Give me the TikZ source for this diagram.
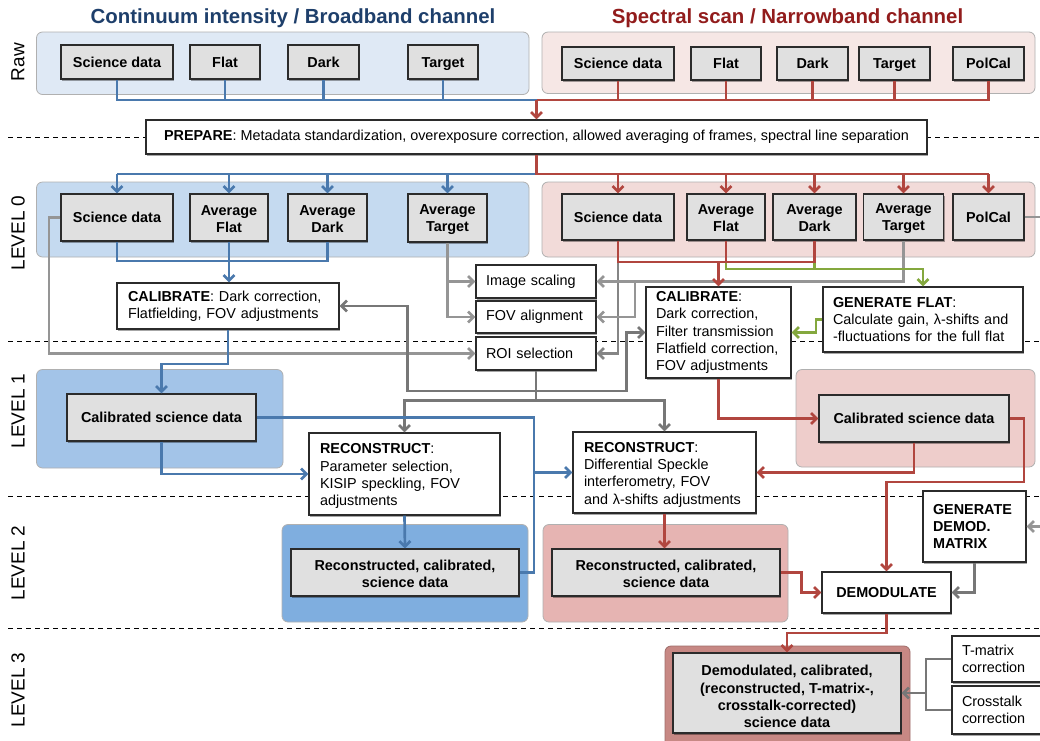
\documentclass[tikz,border=0pt]{standalone}
\usepackage{fontspec}
\setmainfont{Liberation Sans}
\usetikzlibrary{arrows.meta,shadows,backgrounds}
\definecolor{boxgray}{HTML}{E0E0E0}
\definecolor{boxline}{HTML}{2B2B2B}
\definecolor{bandline}{HTML}{B0B0B0}
\definecolor{cblue}{HTML}{4A79AD}
\definecolor{cred}{HTML}{B1463F}
\definecolor{clgray}{HTML}{959595}
\definecolor{cmgray}{HTML}{858585}
\definecolor{cdgray}{HTML}{777777}
\definecolor{cgreen}{HTML}{84A83E}
\definecolor{tblue}{HTML}{1E3F6B}
\definecolor{tred}{HTML}{921C1C}
\definecolor{rawB}{HTML}{DFE9F5}
\definecolor{rawR}{HTML}{F6E7E5}
\definecolor{lzB}{HTML}{C5DAF0}
\definecolor{lzR}{HTML}{F2DBD9}
\definecolor{loB}{HTML}{A3C4E8}
\definecolor{loR}{HTML}{EECDCB}
\definecolor{ltB}{HTML}{7FAEDF}
\definecolor{ltR}{HTML}{E6B4B2}
\definecolor{lthR}{HTML}{C78884}
\newcommand\nb[1]{\mbox{#1}}
\newcommand\st{\rule[-3.2pt]{0pt}{16.7pt}}
\newcommand\sth{\rule{0pt}{12.5pt}}
\newcommand\stw{\rule{0pt}{14.5pt}}
\begin{document}
\begin{tikzpicture}[x=1pt,y=-1pt,
  txt/.style={font=\fontsize{14.4}{17.3}\selectfont},
  shad/.style={drop shadow={opacity=.35,shadow xshift=1pt,shadow yshift=-1.5pt,fill=black}},
  gbox/.style={shad,fill=boxgray,draw=boxline,line width=1.1pt,inner sep=0pt,align=center,font=\fontsize{14.4}{17.3}\selectfont\bfseries,execute at begin node=\st},
  gml/.style={shad,fill=boxgray,draw=boxline,line width=1.1pt,inner sep=0pt,align=center,font=\fontsize{14.4}{17.3}\selectfont\bfseries},
  wbox/.style={shad,fill=white,draw=boxline,line width=1.1pt,inner ysep=0pt,inner xsep=11pt,align=left,txt},
  band/.style={draw=bandline,line width=.8pt,rounded corners=6pt},
  lvl/.style={rotate=90,font=\fontsize{19}{22}\selectfont},
  dsh/.style={draw=black,line width=.9pt,dash pattern=on 5pt off 4pt},
  con/.style={line width=2.7pt},
  bl/.style={con,draw=cblue},
  rd/.style={con,draw=cred},
  lg/.style={con,draw=clgray},
  mg/.style={con,draw=cmgray},
  dg/.style={con,draw=cdgray},
  gn/.style={con,draw=cgreen},
  arr/.style={-{Straight Barb[length=5.5pt,width=11pt]}},
  arr2/.style={{Straight Barb[length=5.5pt,width=11pt]}-{Straight Barb[length=5.5pt,width=11pt]}}
]
\useasboundingbox (0,0) rectangle (1040,740);
\clip (0,0) rectangle (1040,740);
\fill[white] (0,0) rectangle (1040,740);

% dashed level separators
\draw[dsh] (8,137) -- (1040,137);
\draw[dsh] (8,341) -- (1040,341);
\draw[dsh] (8,496) -- (1040,496);
\draw[dsh] (8,628) -- (1040,628);

% bands
\path[band,fill=rawB] (36.5,32) rectangle (529,94.5);
\path[band,fill=rawR] (542,32) rectangle (1035,93.5);
\path[band,fill=lzB] (36.5,182) rectangle (529,257);
\path[band,fill=lzR] (542,182) rectangle (1035,257);
\path[band,fill=loB] (36.5,369.5) rectangle (283,468);
\path[band,fill=loR] (796,369.5) rectangle (1035,467);
\path[band,fill=ltB] (282,524.5) rectangle (528,622);
\path[band,fill=ltR] (543,524.5) rectangle (788,622);
\path[band,fill=lthR,draw=lthR!80!black] (665,646) rectangle (910,760);

% titles and level labels
\node[font=\fontsize{20.4}{24}\selectfont\bfseries,text=tblue] (tB) at (293,18) {Continuum intensity / Broadband channel};
\node[font=\fontsize{20.4}{24}\selectfont\bfseries,text=tred] (tR) at (787.5,18) {Spectral scan / Narrowband channel};
\node[lvl] (lraw) at (18,62) {Raw};
\node[lvl] (l0) at (18,233) {LEVEL 0};
\node[lvl] (l1) at (18,411) {LEVEL 1};
\node[lvl] (l2) at (18,563) {LEVEL 2};
\node[lvl] (l3l) at (18,690) {LEVEL 3};

% raw boxes
\node[gbox,minimum width=112,minimum height=34] (rb_sci) at (117,62) {Science data};
\node[gbox,minimum width=70,minimum height=34] (rb_flat) at (225,62) {Flat};
\node[gbox,minimum width=71,minimum height=34] (rb_dark) at (323.5,62) {Dark};
\node[gbox,minimum width=70,minimum height=34] (rb_tgt) at (443,62) {Target};
\node[gbox,minimum width=112,minimum height=33] (rr_sci) at (618,63.5) {Science data};
\node[gbox,minimum width=70,minimum height=33] (rr_flat) at (726,63.5) {Flat};
\node[gbox,minimum width=71,minimum height=33] (rr_dark) at (812.5,63.5) {Dark};
\node[gbox,minimum width=71,minimum height=33] (rr_tgt) at (894.5,63.5) {Target};
\node[gbox,minimum width=71,minimum height=33] (rr_pol) at (988.5,63.5) {PolCal};

% prepare
\node[wbox,align=center,minimum width=781,minimum height=34] (prep) at (536.5,137) {\textbf{PREPARE}: Metadata standardization, overexposure correction, allowed averaging of frames, spectral line separation};

% level 0 boxes
\node[gbox,minimum width=112,minimum height=47] (l0b_sci) at (117,217.5) {Science data};
\node[gml,minimum width=78,minimum height=47] (l0b_flat) at (229,217.5) {\sth Average\\Flat};
\node[gml,minimum width=79,minimum height=47] (l0b_dark) at (327.5,217.5) {\sth Average\\Dark};
\node[gml,minimum width=79,minimum height=48] (l0b_tgt) at (447.5,218) {\sth Average\\Target};
\node[gbox,minimum width=112,minimum height=46] (l0r_sci) at (618,217) {Science data};
\node[gml,minimum width=78,minimum height=46] (l0r_flat) at (726,217) {\sth Average\\Flat};
\node[gml,minimum width=83,minimum height=46] (l0r_dark) at (814.5,217) {\sth Average\\Dark};
\node[gml,minimum width=80,minimum height=46] (l0r_tgt) at (903.5,217) {\sth Average\\Target};
\node[gbox,minimum width=71,minimum height=46] (l0r_pol) at (988.5,217) {PolCal};

% processing boxes
\node[wbox,text width=200,minimum height=46] (cal_b) at (228,306) {\nb{\textbf{CALIBRATE}: Dark correction,}\\\nb{Flatfielding, FOV adjustments}};
\node[wbox,inner xsep=10pt,text width=100,minimum height=33] (isc) at (536,281.5) {\nb{Image scaling}};
\node[wbox,inner xsep=10pt,text width=100,minimum height=32] (fov) at (536,317) {\nb{FOV alignment}};
\node[wbox,inner xsep=10pt,text width=100,minimum height=33] (roi) at (536,353.5) {\nb{ROI selection}};
\node[wbox,inner xsep=10pt,text width=125,minimum height=91] (cal_r) at (718.5,332.5) {\nb{\textbf{CALIBRATE}:}\\\nb{Dark correction,}\\\nb{Filter transmission}\\\nb{Flatfield correction,}\\\nb{FOV adjustments}};
\node[wbox,inner xsep=10pt,text width=180,minimum height=65] (gen_flat) at (923,319.5) {\nb{\textbf{GENERATE FLAT}:}\\\nb{Calculate gain, λ-shifts and}\\\nb{-fluctuations for the full flat}};

% level 1
\node[gbox,minimum width=189,minimum height=47] (cd_b) at (161.5,417.5) {Calibrated science data};
\node[gbox,minimum width=190,minimum height=47] (cd_r) at (914,418.5) {Calibrated science data};
\node[wbox,text width=169,minimum height=82] (rec_b) at (404.5,474) {\stw\nb{\textbf{RECONSTRUCT}:}\\\nb{Parameter selection,}\\\nb{KISIP speckling, FOV}\\\nb{adjustments}};
\node[wbox,text width=161,minimum height=81] (rec_r) at (664.5,472.5) {\stw\nb{\textbf{RECONSTRUCT}:}\\\nb{Differential Speckle}\\\nb{interferometry, FOV}\\\nb{and λ-shifts adjustments}};

% level 2
\node[gml,minimum width=228,minimum height=47] (rd_b) at (405,572.5) {\sth Reconstructed, calibrated,\\science data};
\node[gml,minimum width=228,minimum height=47] (rd_r) at (666,572.5) {\sth Reconstructed, calibrated,\\science data};
\node[wbox,align=center,font=\fontsize{14.4}{17.3}\selectfont\bfseries,minimum width=129,minimum height=41,execute at begin node=\st] (dem) at (886.5,592.5) {DEMODULATE};
\node[wbox,inner xsep=10pt,text width=83,minimum height=71,font=\fontsize{14.4}{17.3}\selectfont\bfseries] (gdm) at (974.5,526.5) {\nb{GENERATE}\\\nb{DEMOD.}\\\nb{MATRIX}};

% level 3
\node[gml,minimum width=228,minimum height=80] (l3) at (787,693) {\rule{0pt}{18pt}Demodulated, calibrated,\\(reconstructed, T-matrix-,\\crosstalk-corrected)\\science data};
\node[wbox,inner xsep=10pt,text width=76,minimum height=46] (tm) at (1000,659) {\nb{T-matrix}\\\nb{correction}};
\node[wbox,inner xsep=10pt,text width=76,minimum height=48] (ct) at (1000,710) {\nb{Crosstalk}\\\nb{correction}};

% ---- connectors ----
% raw -> prepare
\draw[bl] (rb_sci.south) -- (117,100) -- (536.5,100);
\draw[bl] (rb_flat.south) -- (225,100);
\draw[bl] (rb_dark.south) -- (323.5,100);
\draw[bl] (rb_tgt.south) -- (443,100);
\draw[rd] (rr_pol.south) -- (988.5,100) -- (536.5,100);
\draw[rd] (rr_sci.south) -- (618,100);
\draw[rd] (rr_flat.south) -- (726,100);
\draw[rd] (rr_dark.south) -- (812.5,100);
\draw[rd] (rr_tgt.south) -- (894.5,100);
\draw[rd,arr] (536.5,100) -- (prep.north);
% prepare -> level 0
\draw[bl] (536.5,174) -- (117,174);
\draw[rd] (prep.south) -- (536.5,174) -- (988.5,174);
\draw[bl,arr] (117,174) -- (l0b_sci.north);
\draw[bl,arr] (229,174) -- (l0b_flat.north);
\draw[bl,arr] (327.5,174) -- (l0b_dark.north);
\draw[bl,arr] (447.5,174) -- (l0b_tgt.north);
\draw[rd,arr] (618,174) -- (l0r_sci.north);
\draw[rd,arr] (726,174) -- (l0r_flat.north);
\draw[rd,arr] (814.5,174) -- (l0r_dark.north);
\draw[rd,arr] (903.5,174) -- (l0r_tgt.north);
\draw[rd,arr] (988.5,174) -- (l0r_pol.north);
% level 0 blue
\draw[bl] (l0b_sci.south) -- (117,261) -- (327.5,261) -- (l0b_dark.south);
\draw[bl,arr] (l0b_flat.south) -- (l0b_flat.south |- cal_b.north);
\draw[lg,arr] (l0b_sci.west) -- (49,217.5) -- (49,353.5) -- (roi.west);
\draw[lg,arr] (l0b_tgt.south) -- (447.5,317) -- (fov.west);
\draw[lg,arr] (447.5,281.5) -- (isc.west);
% level 0 red
\draw[mg,arr] (618,262) -- (618,353.5) -- (roi.east);
\draw[lg,arr] (l0r_tgt.south) -- (903.5,281.5) -- (isc.east);
\draw[lg,arr] (635,281.5) -- (635,317) -- (fov.east);
\draw[gn] (814.5,262) -- (814.5,269);
\draw[gn,arr] (726,262) -- (726,269) -- (923,269) -- (gen_flat.north);
\draw[rd] (l0r_sci.south) -- (618,262) -- (814.5,262) -- (l0r_dark.south);
\draw[rd] (l0r_flat.south) -- (726,262);
\draw[rd,arr] (718.5,262) -- (cal_r.north);
\draw[gn,arr] (gen_flat.west) -- (816,319.5) -- (816,332.5) -- (cal_r.east);
% ROI
\draw[dg,arr2] (cal_b.east) -- (407.5,306) -- (407.5,391) -- (626.5,391) -- (626.5,332.5) -- (cal_r.west);
\draw[dg,arr] (roi.south) -- (536,400.5) -- (404.5,400.5) -- (rec_b.north);
\draw[dg,arr] (536,400.5) -- (664.5,400.5) -- (rec_r.north);
% level 1 blue
\draw[bl,arr] (cal_b.south) -- (228,364) -- (161.5,364) -- (cd_b.north);
\draw[bl,arr] (cd_b.south) -- (161.5,474) -- (rec_b.west);
\draw[bl,arr] (cd_b.east) -- (534,417.5) -- (534,472.5) -- (rec_r.west);
\draw[bl] (rd_b.east) -- (534,572.5) -- (534,472.5);
\draw[bl,arr] (rec_b.south) -- (rd_b.north);
% level 1 red
\draw[rd,arr] (cal_r.south) -- (718.5,418.5) -- (cd_r.west);
\draw[rd,arr] (cd_r.south) -- (914,472.5) -- (rec_r.east);
\draw[rd,arr] (cd_r.east) -- (1024,418.5) -- (1024,482) -- (886.5,482) -- (dem.north);
\draw[rd,arr] (rec_r.south) -- (rec_r.south |- rd_r.north);
\draw[rd,arr] (rd_r.east) -- (801.5,572.5) -- (801.5,592.5) -- (dem.west);
% demod
\draw[lg] (l0r_pol.east) -- (1040,217);
\draw[lg,arr] (1040,526.5) -- (gdm.east);
\draw[dg,arr] (gdm.south) -- (974.5,592.5) -- (dem.east);
\draw[rd,arr] (dem.south) -- (886.5,633) -- (787,633) -- (l3.north);
\draw[dg] (tm.west) -- (926,659) -- (926,710) -- (ct.west);
\draw[dg,arr] (926,693) -- (l3.east);
\end{tikzpicture}
\end{document}
